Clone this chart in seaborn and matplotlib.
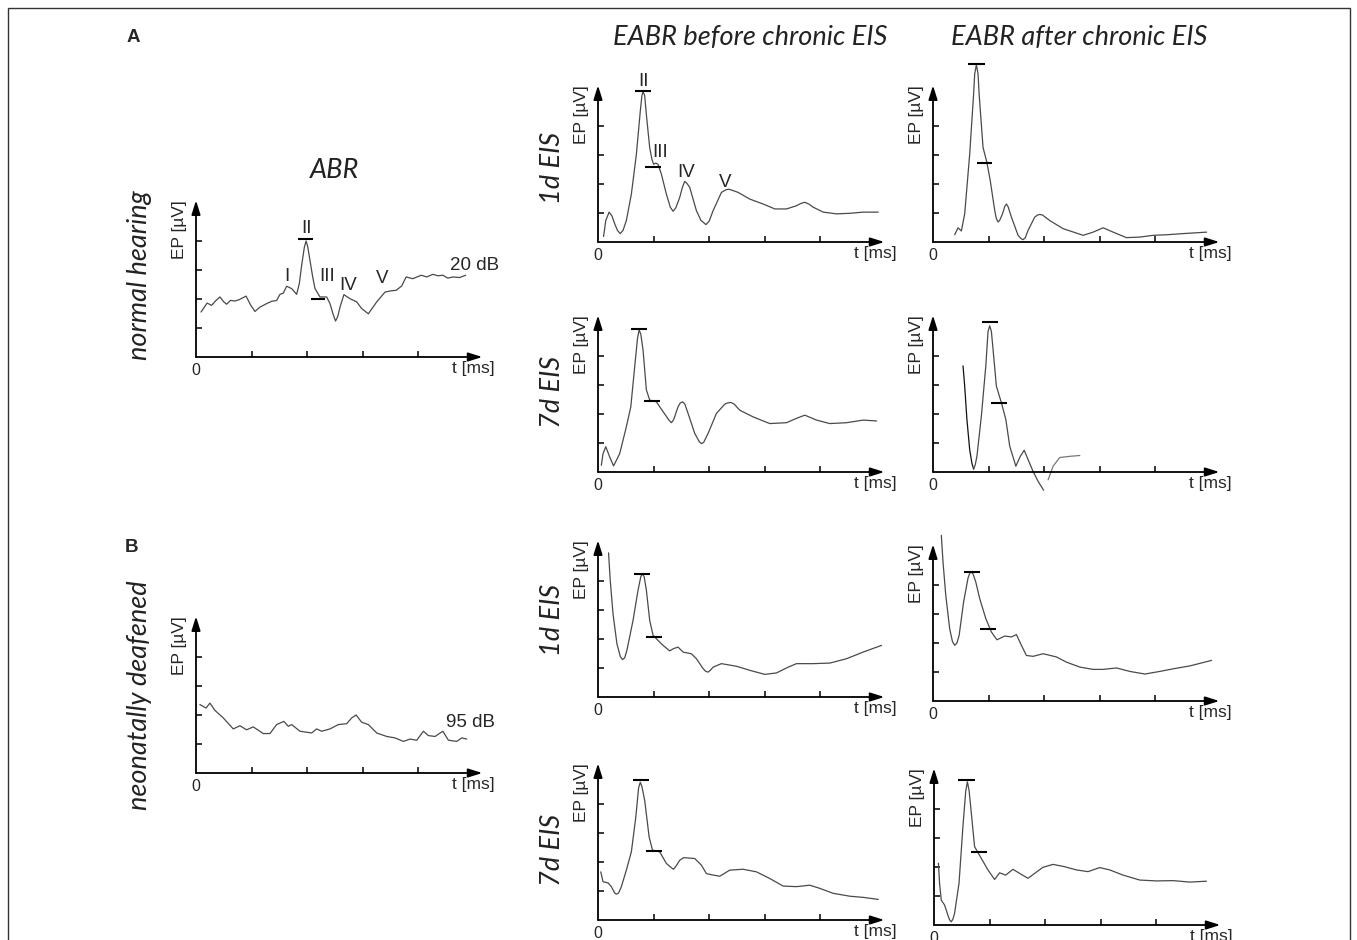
import matplotlib
matplotlib.use('Agg')
import matplotlib.pyplot as plt
import seaborn as sns
from matplotlib.patches import Rectangle

W, H = 1357, 940

# Traces are in tick units: x = one t-tick per unit, y = one EP-tick per unit.

# A, ABR normal hearing, 20 dB
abr_nh_t = [0.09, 0.20, 0.28, 0.36, 0.43, 0.50, 0.55, 0.62, 0.70, 0.78, 0.90, 0.98, 1.06, 1.15,
            1.27, 1.36, 1.45, 1.51, 1.57, 1.63, 1.72, 1.81, 1.86, 1.90, 1.95, 1.98, 2.01, 2.05,
            2.10, 2.14, 2.23, 2.35, 2.41, 2.47, 2.51, 2.55, 2.59, 2.66, 2.77, 2.89, 2.98, 3.10,
            3.25, 3.40, 3.50, 3.60, 3.70, 3.78, 3.90, 4.05, 4.15, 4.26, 4.35, 4.44, 4.53, 4.62,
            4.74, 4.85]
abr_nh_ep = [1.55, 1.86, 1.78, 1.95, 2.07, 1.90, 1.82, 1.95, 1.93, 1.98, 2.10, 1.80, 1.57, 1.72,
             1.84, 1.92, 1.95, 2.16, 2.20, 2.44, 2.36, 2.16, 2.55, 3.16, 3.80, 4.00, 3.80, 3.33,
             2.75, 2.36, 2.07, 2.07, 1.84, 1.45, 1.24, 1.40, 1.72, 2.15, 2.01, 1.90, 1.67, 1.49,
             1.90, 2.24, 2.28, 2.30, 2.45, 2.76, 2.70, 2.82, 2.76, 2.85, 2.80, 2.82, 2.72, 2.76,
             2.74, 2.82]

# B, ABR neonatally deafened, 95 dB
abr_nd_t = [0.07, 0.18, 0.25, 0.34, 0.49, 0.67, 0.79, 0.91, 1.03, 1.21, 1.33, 1.45, 1.58, 1.66,
            1.72, 1.87, 2.08, 2.17, 2.26, 2.41, 2.56, 2.71, 2.80, 2.88, 2.98, 3.10, 3.25, 3.43,
            3.58, 3.73, 3.85, 3.97, 4.09, 4.18, 4.30, 4.44, 4.54, 4.69, 4.78, 4.87]
abr_nd_ep = [2.36, 2.24, 2.41, 2.16, 1.90, 1.52, 1.63, 1.49, 1.59, 1.36, 1.36, 1.67, 1.78, 1.61,
             1.67, 1.44, 1.38, 1.52, 1.44, 1.52, 1.67, 1.70, 1.90, 2.00, 1.75, 1.67, 1.38, 1.26,
             1.21, 1.09, 1.17, 1.13, 1.44, 1.29, 1.26, 1.44, 1.13, 1.09, 1.21, 1.17]

# EABR before chronic EIS, normal hearing, 1d
pre_nh1_t = [0.10, 0.14, 0.20, 0.25, 0.30, 0.35, 0.40, 0.45, 0.51, 0.60, 0.69, 0.76, 0.79, 0.81,
             0.84, 0.87, 0.93, 0.97, 1.00, 1.04, 1.08, 1.14, 1.23, 1.30, 1.35, 1.40, 1.47, 1.52,
             1.56, 1.60, 1.65, 1.77, 1.85, 1.94, 2.00, 2.07, 2.22, 2.30, 2.35, 2.42, 2.52, 2.73,
             2.97, 3.18, 3.39, 3.57, 3.65, 3.72, 3.80, 3.87, 4.05, 4.29, 4.53, 4.77, 5.04]
pre_nh1_ep = [0.19, 0.74, 1.03, 0.90, 0.63, 0.40, 0.29, 0.40, 0.74, 1.65, 3.02, 4.50, 5.05, 5.19,
              5.05, 4.39, 3.25, 2.85, 2.68, 2.72, 2.68, 2.34, 1.65, 1.20, 1.06, 1.18, 1.54, 1.90,
              2.09, 2.02, 1.88, 1.08, 0.75, 0.60, 0.72, 1.08, 1.71, 1.80, 1.82, 1.78, 1.71, 1.48,
              1.31, 1.14, 1.14, 1.25, 1.33, 1.37, 1.30, 1.20, 1.03, 0.97, 0.99, 1.03, 1.03]

# EABR after chronic EIS, normal hearing, 1d
post_nh1_t = [0.39, 0.45, 0.51, 0.57, 0.66, 0.73, 0.75, 0.78, 0.81, 0.83, 0.90, 0.97, 1.03, 1.11,
              1.14, 1.17, 1.20, 1.25, 1.29, 1.32, 1.35, 1.41, 1.53, 1.58, 1.62, 1.66, 1.71, 1.83,
              1.88, 1.92, 1.97, 2.10, 2.34, 2.70, 2.88, 3.06, 3.24, 3.48, 3.72, 3.96, 4.20, 4.50,
              4.92]
post_nh1_ep = [0.25, 0.49, 0.38, 0.97, 3.03, 5.09, 5.80, 6.11, 5.80, 5.09, 3.26, 2.74, 2.11, 1.09,
               0.80, 0.69, 0.75, 0.97, 1.22, 1.31, 1.22, 0.86, 0.23, 0.12, 0.08, 0.15, 0.40, 0.86,
               0.93, 0.95, 0.93, 0.74, 0.46, 0.23, 0.34, 0.49, 0.34, 0.15, 0.17, 0.23, 0.25, 0.29,
               0.34]

# EABR before chronic EIS, normal hearing, 7d
pre_nh7_t = [0.06, 0.09, 0.14, 0.21, 0.28, 0.39, 0.51, 0.59, 0.66, 0.71, 0.74, 0.77, 0.81, 0.87,
             0.93, 1.05, 1.17, 1.28, 1.32, 1.36, 1.44, 1.48, 1.52, 1.56, 1.62, 1.74, 1.82, 1.86,
             1.90, 1.98, 2.13, 2.28, 2.33, 2.39, 2.45, 2.55, 2.79, 3.09, 3.39, 3.57, 3.72, 3.93,
             4.17, 4.47, 4.77, 5.01]
pre_nh7_ep = [0.23, 0.63, 0.87, 0.52, 0.21, 0.63, 1.56, 2.25, 3.63, 4.60, 4.90, 4.75, 4.21, 2.83,
              2.48, 2.42, 2.08, 1.78, 1.70, 1.80, 2.25, 2.38, 2.42, 2.35, 2.02, 1.33, 1.05, 0.98,
              1.02, 1.33, 2.02, 2.34, 2.38, 2.40, 2.34, 2.13, 1.90, 1.67, 1.70, 1.85, 1.96, 1.79,
              1.67, 1.70, 1.79, 1.76]

# EABR after chronic EIS, normal hearing, 7d (trace drawn in three pieces)
post_nh7_t = [0.54, 0.57, 0.61, 0.66, 0.70, 0.73, 0.76, 0.79, 0.87, 0.95, 0.99, 1.02, 1.05, 1.08,
              1.14, 1.23, 1.31, 1.38, 1.49, 1.57, 1.64, 1.71, 1.80, 1.89, 1.99, 2.07, 2.16, 2.28,
              2.46, 2.64]
post_nh7_ep = [3.66, 2.96, 1.81, 0.77, 0.30, 0.10, 0.25, 0.54, 1.93, 3.66, 4.85, 5.04, 4.85, 4.23,
               2.96, 2.39, 1.81, 0.89, 0.20, 0.54, 0.75, 0.43, 0.02, -0.32, -0.63, -0.27, 0.20,
               0.50, 0.54, 0.57]
post_nh7_piece = [0, 0, 0, 0, 0, 0, 1, 1, 1, 1, 1, 1, 1, 1,
                  1, 1, 1, 1, 1, 1, 1, 1, 1, 1, 1, 2, 2, 2,
                  2, 2]

# EABR before chronic EIS, deafened, 1d
pre_nd1_t = [0.19, 0.22, 0.27, 0.34, 0.40, 0.44, 0.48, 0.52, 0.63, 0.72, 0.77, 0.80, 0.83, 0.87,
             0.93, 0.99, 1.08, 1.17, 1.29, 1.36, 1.44, 1.53, 1.68, 1.77, 1.89, 1.94, 1.98, 2.02,
             2.07, 2.22, 2.49, 2.73, 3.00, 3.21, 3.42, 3.57, 3.87, 4.17, 4.47, 4.77, 5.10]
pre_nd1_ep = [4.97, 4.02, 2.87, 1.84, 1.40, 1.29, 1.35, 1.61, 2.64, 3.68, 4.15, 4.25, 4.15, 3.68,
              2.64, 2.13, 1.95, 1.78, 1.59, 1.67, 1.72, 1.55, 1.49, 1.32, 0.98, 0.88, 0.86, 0.92,
              1.03, 1.15, 1.06, 0.92, 0.78, 0.83, 1.03, 1.15, 1.15, 1.17, 1.32, 1.55, 1.78]

# EABR after chronic EIS, deafened, 1d
post_nd1_t = [0.15, 0.18, 0.23, 0.30, 0.35, 0.39, 0.43, 0.47, 0.55, 0.63, 0.66, 0.69, 0.72, 0.77,
              0.84, 0.95, 1.05, 1.15, 1.29, 1.41, 1.50, 1.59, 1.68, 1.80, 1.98, 2.22, 2.40, 2.64,
              2.88, 3.06, 3.30, 3.54, 3.81, 4.08, 4.32, 4.62, 5.01]
post_nd1_ep = [5.71, 4.79, 3.64, 2.49, 2.05, 1.92, 2.00, 2.26, 3.41, 4.24, 4.40, 4.45, 4.38, 4.10,
               3.53, 2.84, 2.38, 2.11, 2.24, 2.21, 2.29, 1.92, 1.57, 1.54, 1.63, 1.52, 1.34, 1.17,
               1.09, 1.09, 1.14, 1.02, 0.93, 1.02, 1.11, 1.21, 1.40]

# EABR before chronic EIS, deafened, 7d
pre_nd7_t = [0.05, 0.09, 0.18, 0.24, 0.30, 0.33, 0.37, 0.42, 0.51, 0.60, 0.68, 0.73, 0.76, 0.79,
             0.84, 0.92, 0.98, 1.11, 1.23, 1.32, 1.36, 1.40, 1.47, 1.54, 1.74, 1.86, 1.95, 2.07,
             2.19, 2.37, 2.61, 2.85, 3.09, 3.33, 3.57, 3.81, 3.99, 4.23, 4.53, 4.77, 5.04]
pre_nd7_ep = [1.66, 1.32, 1.28, 1.15, 0.93, 0.89, 0.93, 1.15, 1.72, 2.35, 3.55, 4.55, 4.75, 4.60,
              4.12, 2.86, 2.41, 2.35, 1.95, 1.80, 1.75, 1.85, 2.06, 2.15, 2.12, 1.89, 1.60, 1.55,
              1.51, 1.72, 1.75, 1.66, 1.43, 1.17, 1.15, 1.20, 1.09, 0.92, 0.82, 0.78, 0.71]

# EABR after chronic EIS, deafened, 7d
post_nd7_t = [0.08, 0.10, 0.13, 0.19, 0.25, 0.28, 0.31, 0.34, 0.37, 0.45, 0.52, 0.57, 0.60, 0.63,
              0.66, 0.73, 0.85, 0.97, 1.09, 1.18, 1.29, 1.42, 1.54, 1.69, 1.81, 1.96, 2.14, 2.35,
              2.56, 2.77, 2.98, 3.16, 3.40, 3.70, 4.00, 4.30, 4.60, 4.90]
post_nd7_ep = [2.13, 1.44, 0.86, 0.69, 0.34, 0.18, 0.11, 0.20, 0.40, 1.44, 3.39, 4.60, 4.94, 4.65,
               4.08, 2.70, 2.30, 1.90, 1.57, 1.80, 1.72, 1.92, 1.78, 1.61, 1.78, 1.99, 2.09, 2.01,
               1.90, 1.84, 1.98, 1.90, 1.72, 1.55, 1.52, 1.53, 1.48, 1.51]

# peak markers: (level, start, end) in tick units
marks_abr_nh = [(4.06, 1.84, 2.11), (1.99, 2.06, 2.32)]
marks_pre_nh1 = [(5.22, 0.66, 0.96), (2.60, 0.84, 1.14)]
marks_post_nh1 = [(6.14, 0.63, 0.93), (2.74, 0.79, 1.07)]
marks_pre_nh7 = [(4.92, 0.60, 0.88), (2.46, 0.82, 1.11)]
marks_post_nh7 = [(5.18, 0.89, 1.17), (2.39, 1.05, 1.33)]
marks_pre_nd1 = [(4.25, 0.64, 0.94), (2.07, 0.86, 1.16)]
marks_post_nd1 = [(4.45, 0.55, 0.84), (2.49, 0.84, 1.14)]
marks_pre_nd7 = [(4.83, 0.63, 0.91), (2.37, 0.87, 1.16)]
marks_post_nd7 = [(5.00, 0.43, 0.73), (2.51, 0.67, 0.95)]

# wave labels for the normal hearing traces
waves_abr = [('I', 1.64, 2.78), ('II', 1.99, 4.43), ('III', 2.35, 2.78), ('IV', 2.74, 2.47), ('V', 3.35, 2.70)]
waves_pre = [('II', 0.81, 5.53), ('III', 1.11, 3.08), ('IV', 1.59, 2.39), ('V', 2.28, 2.05)]

XU, YU = 55.6, 29.0      # pixels per tick
XMAX, YMAX = 5.15, 5.4
TRACE = '#4a4a4a'
SANS = 'Liberation Sans'
TITLE = dict(family='Lato', style='italic', fontsize=19.5, color='#222222')

sns.set_theme(style='white')
plt.rcParams['font.family'] = [SANS, 'DejaVu Sans']

fig = plt.figure(figsize=(W / 100, H / 100), dpi=100)


def make_axes(ox, oy):
    ax = fig.add_axes([ox / W, 1 - oy / H, XMAX * XU / W, YMAX * YU / H])
    ax.set_xlim(0, XMAX)
    ax.set_ylim(0, YMAX)
    ax.patch.set_alpha(0)
    for s in ax.spines.values():
        s.set_visible(False)
    ax.set_xticks([1, 2, 3, 4])
    ax.set_yticks([1, 2, 3, 4])
    ax.tick_params(direction='in', length=4, width=1.1, color='black',
                   bottom=True, left=True, labelbottom=False, labelleft=False)
    ax.grid(False)
    ax.set(xlabel='', ylabel='')
    arrow = dict(arrowstyle='-|>,head_length=0.7,head_width=0.22', color='black',
                 lw=1.3, shrinkA=0, shrinkB=0)
    ax.annotate('', xy=(1, 0), xytext=(0, 0), xycoords='axes fraction', arrowprops=arrow)
    ax.annotate('', xy=(0, 1), xytext=(0, 0), xycoords='axes fraction', arrowprops=arrow)
    ax.annotate('0', xy=(0, 0), xycoords='axes fraction', xytext=(0, -4),
                textcoords='offset points', ha='center', va='top', fontsize=11.5)
    ax.annotate('t [ms]', xy=(1, 0), xycoords='axes fraction', xytext=(9, -3),
                textcoords='offset points', ha='right', va='top', fontsize=12.5)
    ax.annotate('EP [µV]', xy=(0, 1), xycoords='axes fraction', xytext=(-12, 0),
                textcoords='offset points', ha='center', va='top', rotation=90, fontsize=12.5)
    return ax


def trace(ax, t, ep, color=TRACE):
    sns.lineplot(x=t, y=ep, ax=ax, color=color, lw=0.9, estimator=None, sort=False,
                 legend=False)
    for line in ax.lines:
        line.set_clip_on(False)
        line.set_solid_joinstyle('round')


def marks(ax, m):
    for level, a, b in m:
        ax.hlines(level, a, b, color='black', lw=1.5, clip_on=False)


panels = [
    ((196, 357), abr_nh_t, abr_nh_ep, marks_abr_nh),
    ((196, 773), abr_nd_t, abr_nd_ep, []),
    ((598, 242), pre_nh1_t, pre_nh1_ep, marks_pre_nh1),
    ((933, 242), post_nh1_t, post_nh1_ep, marks_post_nh1),
    ((598, 472), pre_nh7_t, pre_nh7_ep, marks_pre_nh7),
    ((933, 472), None, None, marks_post_nh7),
    ((598, 697), pre_nd1_t, pre_nd1_ep, marks_pre_nd1),
    ((933, 701), post_nd1_t, post_nd1_ep, marks_post_nd1),
    ((598, 920), pre_nd7_t, pre_nd7_ep, marks_pre_nd7),
    ((934, 925), post_nd7_t, post_nd7_ep, marks_post_nd7),
]

axes = []
for (ox, oy), t, ep, m in panels:
    ax = make_axes(ox, oy)
    if t is not None:
        trace(ax, t, ep)
    else:
        for piece, col in [(0, '#111111'), (1, TRACE), (2, '#777777')]:
            idx = [i for i, p in enumerate(post_nh7_piece) if p == piece]
            if piece == 1:
                idx = [idx[0] - 1] + idx
            trace(ax, [post_nh7_t[i] for i in idx], [post_nh7_ep[i] for i in idx], col)
    marks(ax, m)
    axes.append(ax)

for name, x, y in waves_abr:
    axes[0].text(x, y, name, ha='center', va='center', fontsize=13.5)
axes[0].text(5.01, 3.16, '20 dB', ha='center', va='center', fontsize=13.5)
axes[1].text(4.93, 1.75, '95 dB', ha='center', va='center', fontsize=13.5)
for name, x, y in waves_pre:
    axes[2].text(x, y, name, ha='center', va='center', fontsize=13.5)

# titles and row labels
fig.text(335 / W, 1 - 170 / H, 'ABR', ha='center', va='center', **TITLE)
fig.text(750 / W, 1 - 37 / H, 'EABR before chronic EIS', ha='center', va='center', **TITLE)
fig.text(1079 / W, 1 - 37 / H, 'EABR after chronic EIS', ha='center', va='center', **TITLE)
fig.text(140 / W, 1 - 275 / H, 'normal hearing', ha='center', va='center', rotation=90, **TITLE)
fig.text(140 / W, 1 - 695 / H, 'neonatally deafened', ha='center', va='center', rotation=90, **TITLE)
for y, lab in [(168, '1d EIS'), (392, '7d EIS'), (620, '1d EIS'), (850, '7d EIS')]:
    fig.text(553 / W, 1 - y / H, lab, ha='center', va='center', rotation=90, **TITLE)

fig.text(133 / W, 1 - 37 / H, 'A', ha='center', va='center', fontsize=13.5, fontweight='bold')
fig.text(131 / W, 1 - 547 / H, 'B', ha='center', va='center', fontsize=13.5, fontweight='bold')

fig.patches.append(Rectangle((8 / W, -0.02), (1350 - 8) / W, (H - 8) / H + 0.02,
                             transform=fig.transFigure, fill=False, ec='#333333', lw=1.0))

fig.savefig('out.png', dpi=100)
